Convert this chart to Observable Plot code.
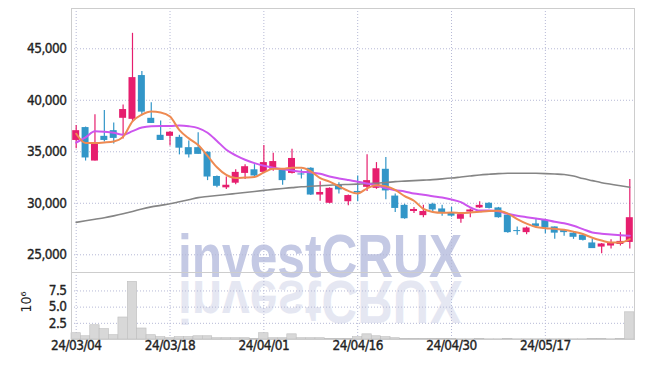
<!DOCTYPE html>
<html><head><meta charset="utf-8">
<script src="https://cdn.jsdelivr.net/npm/d3@7"></script>
<script src="https://cdn.jsdelivr.net/npm/@observablehq/plot@0.6"></script>
<style>
html,body{margin:0;padding:0;background:#fff;}
#wrap{position:relative;width:645px;height:366px;overflow:hidden;}
#wrap > svg{position:absolute;left:0;}
</style></head><body><div id="wrap"></div>
<script>
const dates = ["24/03/04","24/03/05","24/03/06","24/03/07","24/03/08","24/03/11","24/03/12","24/03/13","24/03/14","24/03/15",
"24/03/18","24/03/19","24/03/20","24/03/21","24/03/22","24/03/25","24/03/26","24/03/27","24/03/28","24/03/29",
"24/04/01","24/04/02","24/04/03","24/04/04","24/04/05","24/04/08","24/04/09","24/04/11","24/04/12","24/04/15",
"24/04/16","24/04/17","24/04/18","24/04/19","24/04/22","24/04/23","24/04/24","24/04/25","24/04/26","24/04/29",
"24/04/30","24/05/02","24/05/03","24/05/07","24/05/08","24/05/09","24/05/10","24/05/13","24/05/14","24/05/16",
"24/05/17","24/05/20","24/05/21","24/05/22","24/05/23","24/05/24","24/05/27","24/05/28","24/05/29","24/05/30"];
const open = [36100,37350,34100,36500,37050,38250,38150,42400,38250,36600,
36500,36400,35400,35400,34950,32600,31500,31950,32900,33250,
33000,33300,33250,32900,32850,33400,30800,30000,31800,30150,
31150,31550,31450,33300,30700,29800,29200,28800,29900,29450,
29100,28450,29150,29550,30000,29550,28850,27350,27150,28000,
28350,27700,27350,27100,26900,26150,25750,25850,26000,26200];
const high = [37550,37400,38600,39000,37800,39550,46500,42800,39750,38000,
36950,36600,36050,36850,35000,32650,32550,33250,33750,33750,
35600,34850,33300,35250,33250,33450,32100,31500,32000,30800,
32650,34700,33950,34450,30900,29900,29600,29800,30000,29800,
29600,28950,29450,30150,30050,29600,28900,27700,27700,28450,
28400,27700,27400,27250,27000,26500,26100,26450,27150,32300];
const low = [35300,34100,34100,35950,35750,36250,37850,38500,37750,36100,
35550,34700,34400,34750,32200,31500,31350,31800,32300,32550,
32900,33100,31750,32850,32350,30750,30200,29950,30900,29750,
30150,31150,31350,30350,29100,28450,29000,28600,29100,28750,
28650,28050,28600,29500,29450,28550,27100,26900,26950,27700,
27050,26500,26800,26500,26350,25600,25100,25550,25850,25550];
const close = [37050,34400,35900,36100,36300,39100,42200,38850,37750,36100,
36900,35350,34700,34750,32550,31650,31750,33000,33550,32650,
33950,34050,32200,34350,32750,30800,31050,31450,31300,30750,
31000,32200,33350,31200,29500,28500,29400,29200,29350,29000,
28750,28900,29350,29800,29500,28600,27150,27250,27600,27750,
27600,27100,27150,26700,26400,25600,26050,26150,26300,28600];
const volume = [0.97,0.5,2.2,1.6,0.66,3.4,8.9,1.7,0.66,0.36,
0.2,0.36,0.36,0.5,0.5,0.2,0.2,0.2,0.2,0.1,
0.97,0.2,0.2,0.8,0.2,0.2,0.2,0.1,0.1,0.1,
0.36,0.8,0.5,0.36,0.2,0.1,0.1,0.05,0.05,0.05,
0.05,0.03,0.03,0.1,0.03,0.03,0.1,0.03,0.03,0.03,
0.03,0.03,0.03,0.03,0.03,0.1,0.1,0.03,0.1,4.2];
const ma5 = [36750,35850,35850,35900,36000,36450,37950,38600,38900,38820,
38420,37100,36300,35650,34600,33500,32750,32450,32500,32560,
33000,33350,33350,33450,33450,33100,32450,32100,31650,31200,
30950,31450,31750,31650,31300,30700,30250,29450,29160,29080,
29100,29050,29100,29180,29260,29280,29000,28460,28020,27700,
27580,27520,27430,27250,27020,26650,26380,26190,26200,26530];
const ma20 = [35900,36400,37000,36950,36850,36650,37000,37350,37480,37500,
37500,37550,37480,37300,36850,36050,35200,34650,34230,33900,
33650,33450,33300,33180,33060,32990,32860,32600,32410,32250,
32100,31920,31730,31470,31270,31150,30950,30830,30690,30560,
30370,30110,29600,29290,29290,29230,28980,28790,28650,28520,
28400,28200,28070,27820,27490,27170,27040,26970,26900,26850];
const ma60 = [28150,28300,28450,28600,28780,28980,29200,29450,29650,29800,
29950,30150,30350,30550,30660,30760,30850,30950,31050,31150,
31250,31350,31440,31520,31600,31650,31700,31750,31800,31830,
31860,31890,31950,32010,32100,32150,32200,32250,32300,32370,
32450,32550,32650,32750,32820,32880,32910,32920,32920,32910,
32880,32840,32790,32650,32400,32200,32000,31850,31700,31560];
const tickDates = ["24/03/04","24/03/18","24/04/01","24/04/16","24/04/30","24/05/17"];
const priceTicks = [25000,30000,35000,40000,45000];
const volumeTicks = [2.5,5.0,7.5];
const volumeLabel = "10⁶";
const watermark = "investCRUX";

const rows = dates.map((d,i)=>({date:d, open:open[i], high:high[i], low:low[i], close:close[i],
  volume:volume[i], ma5:ma5[i], ma20:ma20[i], ma60:ma60[i]}));
const upRows = rows.filter(d=>d.close>=d.open);
const downRows = rows.filter(d=>d.close<d.open);

const font = "'DejaVu Sans Condensed','DejaVu Sans',sans-serif";
const UP = "#e61e6e", DOWN = "#3296c8";
const grid = {stroke:"#b6b9d6", strokeDasharray:"1,2", strokeWidth:1};
const labelStyle = {fill:"#222", stroke:"#222", strokeWidth:0.35, fontSize:13.5};
const bodyLo = d => Math.min(d.open,d.close) - (Math.abs(d.open-d.close)<100 ? 50 : 0);
const bodyHi = d => Math.max(d.open,d.close) + (Math.abs(d.open-d.close)<100 ? 50 : 0);

const wrap = document.getElementById("wrap");

// watermark (behind)
const ns = "http://www.w3.org/2000/svg";
const wm = document.createElementNS(ns,"svg");
wm.setAttribute("width",645); wm.setAttribute("height",366);
wm.style.top = "0px";
const wmFont = "'Liberation Sans', Arial, sans-serif";
wm.innerHTML = `
<text x="178" y="277" font-family="${wmFont}" font-weight="bold" font-size="61" fill="#c4c9e4" textLength="284" lengthAdjust="spacingAndGlyphs">${watermark}</text>
<g transform="translate(0,558) scale(1,-1)"><text x="178" y="277" font-family="${wmFont}" font-weight="bold" font-size="61" fill="#e5e7f2" textLength="284" lengthAdjust="spacingAndGlyphs">${watermark}</text></g>`;
wrap.appendChild(wm);

const topChart = Plot.plot({
  width:645, height:272, marginLeft:71, marginRight:11, marginTop:8, marginBottom:0,
  style:{background:"transparent", fontFamily:font, fontSize:"13.5px", color:"#222", overflow:"visible", letterSpacing:"-0.5px"},
  x:{type:"band", domain:dates, padding:0, round:false, axis:null},
  y:{domain:[23280,48910], axis:null},
  marks:[
    Plot.ruleY(priceTicks, grid),
    Plot.ruleX(tickDates, grid),
    Plot.frame({stroke:"#cdcdcd"}),
    Plot.ruleX(upRows, {x:"date", y1:"low", y2:"high", stroke:UP, strokeWidth:1.2}),
    Plot.ruleX(downRows, {x:"date", y1:"low", y2:"high", stroke:DOWN, strokeWidth:1.2}),
    Plot.barY(upRows, {x:"date", y1:bodyLo, y2:bodyHi, fill:UP, insetLeft:1.2, insetRight:1.2}),
    Plot.barY(downRows, {x:"date", y1:bodyLo, y2:bodyHi, fill:DOWN, insetLeft:1.2, insetRight:1.2}),
    Plot.line(rows, {x:"date", y:"ma60", stroke:"#858585", strokeWidth:1.6, curve:"monotone-x"}),
    Plot.line(rows, {x:"date", y:"ma20", stroke:"#cc55ee", strokeWidth:2, curve:"monotone-x"}),
    Plot.line(rows, {x:"date", y:"ma5", stroke:"#ee8a52", strokeWidth:2, curve:"monotone-x"}),
    Plot.text(priceTicks, {y:d=>d, text:d=>d3.format(",")(d), frameAnchor:"left", textAnchor:"end", dx:-5, ...labelStyle})
  ]
});
topChart.style.top = "0px";
wrap.appendChild(topChart);

const botChart = Plot.plot({
  width:645, height:94, marginLeft:71, marginRight:11, marginTop:0, marginBottom:27,
  style:{background:"transparent", fontFamily:font, fontSize:"13.5px", color:"#222", overflow:"visible", letterSpacing:"-0.5px"},
  x:{type:"band", domain:dates, padding:0, round:false, axis:null},
  y:{domain:[0,10.35], axis:null},
  marks:[
    Plot.ruleY(volumeTicks, grid),
    Plot.ruleX(tickDates, grid),
    Plot.barY(rows, {x:"date", y:"volume", fill:"#d8d8d8", stroke:"#bebebe", strokeWidth:0.6}),
    Plot.frame({stroke:"#cdcdcd"}),
    Plot.text(volumeTicks, {y:d=>d, text:d=>d.toFixed(1), frameAnchor:"left", textAnchor:"end", dx:-5, ...labelStyle}),
    Plot.text(tickDates, {x:d=>d, text:d=>d, frameAnchor:"bottom", dy:10, ...labelStyle})
  ]
});
botChart.style.top = "272px";
wrap.appendChild(botChart);

const lab = document.createElementNS(ns,"svg");
lab.setAttribute("width",645); lab.setAttribute("height",366);
lab.style.top = "0px";
lab.innerHTML = `<text transform="translate(31,302) rotate(-90)" text-anchor="middle" font-family="${font.replace(/"/g,'')}" font-size="14" fill="#222">${volumeLabel}</text>`;
wrap.appendChild(lab);
</script></body></html>
